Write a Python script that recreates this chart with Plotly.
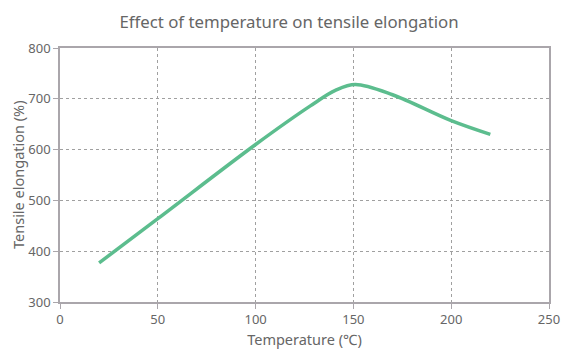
import plotly.graph_objects as go

temperature = [20, 50, 100, 128, 141, 151, 170, 200, 220]
elongation = [377, 464, 610, 686, 717, 728, 708, 657, 630]

x_ticks = [0, 50, 100, 150, 200, 250]
y_ticks = [300, 400, 500, 600, 700, 800]

axis_col = "#aaa6ab"
grid_col = "#a0a0a0"
text_col = "#666666"
font_fam = "Noto Sans, DejaVu Sans, sans-serif"

fig = go.Figure()
fig.add_trace(go.Scatter(
    x=temperature, y=elongation, mode="lines",
    line=dict(color="#5cbd8e", width=3.5, shape="spline", smoothing=1.0),
    showlegend=False, hoverinfo="x+y",
))

common = dict(
    showline=True, linecolor=axis_col, linewidth=1.5, mirror=True,
    showgrid=True, gridcolor=grid_col, griddash="3px,3px", gridwidth=1,
    ticks="outside", ticklen=5, tickcolor=axis_col,
    tickfont=dict(size=13, color=text_col, family=font_fam), zeroline=False,
    automargin=False,
)

fig.update_layout(
    width=562, height=352,
    margin=dict(l=52, r=21, t=40, b=58),
    paper_bgcolor="white", plot_bgcolor="white",
    font=dict(family=font_fam, color=text_col),
    title=dict(text="Effect of temperature on tensile elongation",
               x=0.5, xanchor="center", y=1 - 14 / 352, yanchor="middle",
               font=dict(size=16.8, color=text_col)),
    xaxis=dict(range=[0, 250], tickvals=x_ticks,
               title=dict(text="Temperature (℃)", font=dict(size=14.5, color=text_col), standoff=8),
               **common),
    yaxis=dict(range=[300, 800], tickvals=y_ticks, **common),
    annotations=[dict(
        text="Tensile elongation (%)", textangle=-90,
        xref="paper", yref="paper", x=0, y=0.5,
        xanchor="center", yanchor="middle", xshift=-42, showarrow=False,
        font=dict(size=14.5, color=text_col),
    )],
)

fig.write_html("out.html")
